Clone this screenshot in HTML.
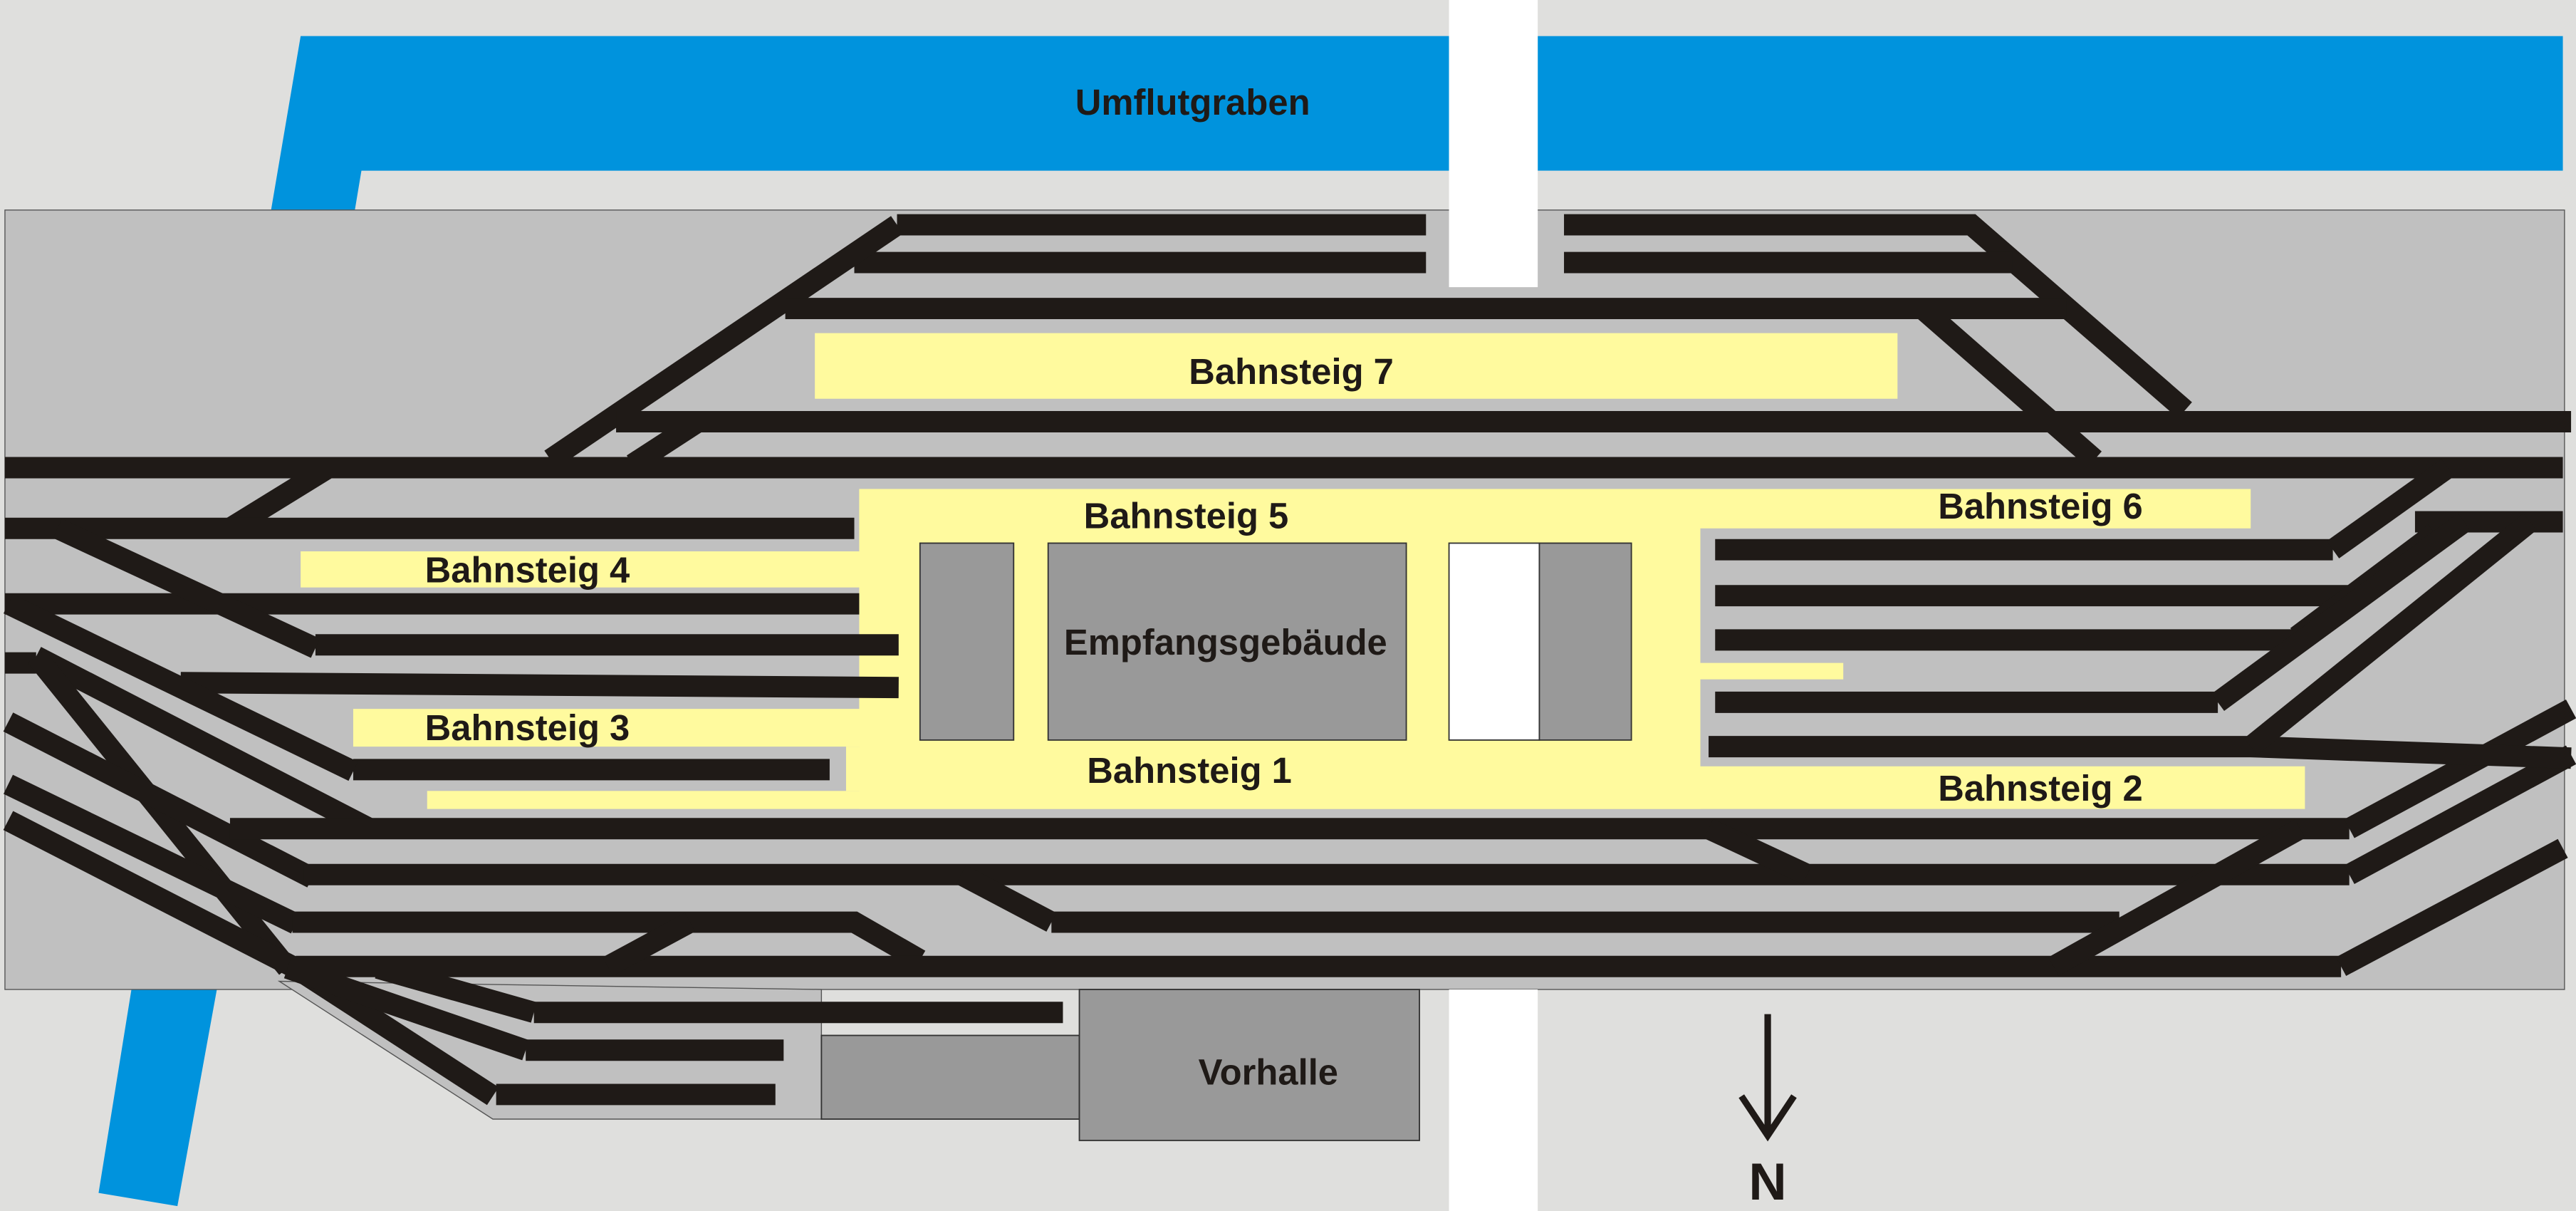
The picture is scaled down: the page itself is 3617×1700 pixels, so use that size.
<!DOCTYPE html>
<html><head><meta charset="utf-8"><style>html,body{margin:0;padding:0;background:#dfdfdd}svg{display:block}</style></head><body>
<svg width="3617" height="1700" viewBox="0 0 1568 738" preserveAspectRatio="none" xmlns="http://www.w3.org/2000/svg" font-family="Liberation Sans, Arial, sans-serif" font-weight="bold">
<rect x="0" y="0" width="1568" height="738" fill="#dfdfdd"/>
<polygon points="183,22 882,22 882,104 220,104 216,128 165,128" fill="#0093dd"/>
<rect x="936" y="22" width="624" height="82" fill="#0093dd"/>
<polygon points="80,603 132,603 108,735 60,727" fill="#0093dd"/>
<rect x="3" y="128" width="1558" height="475" fill="#c0c0c0" stroke="#555" stroke-width="0.6"/>
<polygon points="170,598 300,682 500,682 500,603" fill="#c0c0c0" stroke="#555" stroke-width="0.6"/>
<rect x="882" y="0" width="54" height="175" fill="#ffffff"/>
<rect x="882" y="603" width="54" height="135" fill="#ffffff"/>
<g fill="#fffa9e">
<rect x="496" y="203" width="659" height="40"/>
<rect x="523" y="298" width="847" height="24"/>
<rect x="523" y="298" width="512" height="195"/>
<rect x="1035" y="467" width="368" height="26"/>
<rect x="260" y="482" width="775" height="11"/>
<rect x="183" y="336" width="377" height="22"/>
<rect x="215" y="432" width="345" height="23"/>
<rect x="515" y="455" width="45" height="27"/>
<rect x="1035" y="404" width="87" height="10"/>
</g>
<g stroke="#333" stroke-width="0.8">
<rect x="560" y="331" width="57" height="120" fill="#999"/>
<rect x="638" y="331" width="218" height="120" fill="#999"/>
<rect x="882" y="331" width="55" height="120" fill="#fff"/>
<rect x="937" y="331" width="56" height="120" fill="#999"/>
<rect x="500" y="631" width="157" height="51" fill="#999"/>
<rect x="657" y="603" width="207" height="92" fill="#999"/>
</g>
<g stroke="#1f1a17" stroke-width="13" fill="none" stroke-linecap="butt">
<path d="M546 137H868M952 137H1200L1330 250"/>
<path d="M520 160H868M952 160H1225"/>
<path d="M546 137L335 280"/>
<path d="M478 188H1258M1170 188L1275 280"/>
<path d="M375 257H1565M425 257L385 283"/>
<path d="M3 285H1560M200 285L140 322"/>
<path d="M3 322H520"/>
<path d="M3 368H523"/>
<path d="M192 393H547"/>
<path d="M110 416L547 419"/>
<path d="M215 469H505"/>
<path d="M35 322L192 395"/>
<path d="M5 368L215 470"/>
<path d="M22 400L225 505"/>
<path d="M3 404H22"/>
<path d="M22 400L175 590"/>
<path d="M5 440L190 535"/>
<path d="M5 478L180 563"/>
<path d="M5 500L180 590L300 668"/>
<path d="M230 590L325 617M175 590L320 640"/>
<path d="M325 617H647M320 640H477M302 667H472"/>
<path d="M140 505H1430M185 533H1430"/>
<path d="M178 562H520L560 585M640 562H1290"/>
<path d="M180 589H1425"/>
<path d="M370 589L420 562M585 533L640 562M1040 505L1100 533M1250 589L1400 505"/>
<path d="M1430 505L1565 432M1430 533L1565 460M1425 589L1560 517"/>
<path d="M1044 335H1420M1044 363H1440M1044 390H1400M1044 428H1350M1040 455H1370L1565 462"/>
<path d="M1470 318H1560"/>
<path d="M1420 335L1490 285"/>
<path d="M1398 388L1482 325"/>
<path d="M1350 428L1500 318"/>
<path d="M1370 455L1540 318"/>
</g>
<g fill="#1f1a17" font-size="22" text-anchor="middle">
<text x="726" y="70">Umflutgraben</text>
<text x="786" y="234">Bahnsteig 7</text>
<text x="722" y="322">Bahnsteig 5</text>
<text x="1242" y="316">Bahnsteig 6</text>
<text x="321" y="355">Bahnsteig 4</text>
<text x="321" y="451">Bahnsteig 3</text>
<text x="724" y="477">Bahnsteig 1</text>
<text x="1242" y="488">Bahnsteig 2</text>
<text x="746" y="399">Empfangsgebäude</text>
<text x="772" y="661">Vorhalle</text>
<text x="1076" y="731" font-size="32">N</text>
</g>
<path d="M1076 618V692M1060 668L1076 692L1092 668" stroke="#1f1a17" stroke-width="4" fill="none"/>
</svg>
</body></html>
